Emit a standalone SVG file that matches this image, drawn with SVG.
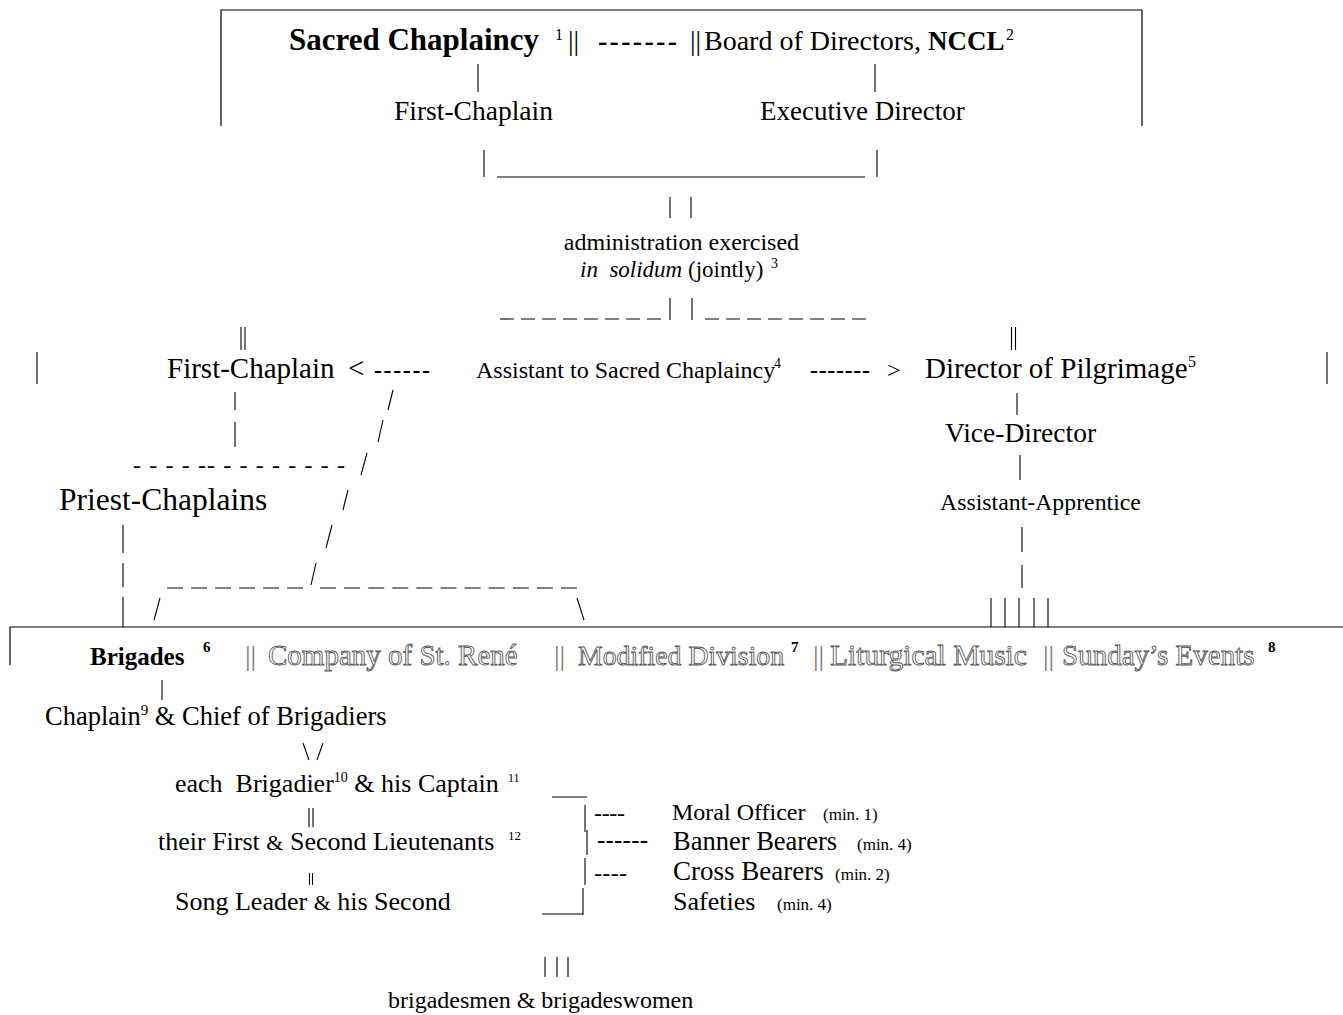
<svg xmlns="http://www.w3.org/2000/svg" width="1343" height="1015" viewBox="0 0 1343 1015">
<style>
text{font-family:"Liberation Serif","Times New Roman",serif;fill:#000}
.b{font-weight:bold}
.i{font-style:italic}
.o{fill:#fff;stroke:#5a5a5a;stroke-width:0.9}
.g{fill:#777}
.c line,.c path{stroke:#000;stroke-width:1.1;fill:none}
.frame{stroke:#000;stroke-width:1.2;fill:none}
</style>
<rect width="1343" height="1015" fill="#fff"/>

<g id="frames">
<path class="frame" d="M221,126 V10 H1142 V126"/>
<path class="frame" d="M10,665 V627 H1343"/>
</g>

<g id="sacred-chaplaincy">
<text x="289" y="50" class="b" font-size="31">Sacred Chaplaincy</text>
<text x="555" y="40" font-size="16">1</text>
</g>
<g id="board-of-directors">
<text x="704" y="50" font-size="28">Board of Directors, <tspan class="b" font-size="27">NCCL</tspan></text>
<text x="1006" y="40" font-size="16">2</text>
</g>
<g id="first-chaplain-top"><text x="394" y="120" font-size="27.5">First-Chaplain</text></g>
<g id="executive-director"><text x="760" y="120" font-size="27">Executive Director</text></g>
<g id="administration">
<text x="681.5" y="250" font-size="24" text-anchor="middle">administration exercised</text>
<text x="580" y="277" font-size="23" xml:space="preserve"><tspan class="i">in  solidum</tspan> (jointly)</text>
<text x="771" y="268" font-size="14">3</text>
</g>
<g id="first-chaplain"><text x="167" y="378" font-size="29">First-Chaplain</text></g>
<g id="assistant-sacred-chaplaincy">
<text x="476" y="378" font-size="24">Assistant to Sacred Chaplaincy</text>
<text x="774" y="368" font-size="14">4</text>
</g>
<g id="director-of-pilgrimage">
<text x="925" y="378" font-size="29">Director of Pilgrimage</text>
<text x="1188" y="367" font-size="16">5</text>
</g>
<g id="vice-director"><text x="945" y="442" font-size="27.5">Vice-Director</text></g>
<g id="assistant-apprentice"><text x="940" y="510" font-size="23.8">Assistant-Apprentice</text></g>
<g id="priest-chaplains"><text x="59" y="510" font-size="31.5">Priest-Chaplains</text></g>

<g id="brigades">
<text x="90" y="665" class="b" font-size="25">Brigades</text>
<text x="203" y="652" class="b" font-size="15">6</text>
</g>
<g id="company-st-rene"><text x="268" y="665" class="o" font-size="29">Company of St. René</text></g>
<g id="modified-division">
<text x="578" y="665" class="o" font-size="27.8">Modified Division</text>
<text x="791" y="652" class="b" font-size="15">7</text>
</g>
<g id="liturgical-music"><text x="830" y="665" class="o" font-size="29.5">Liturgical Music</text></g>
<g id="sundays-events">
<text x="1062" y="665" class="o" font-size="29">Sunday’s Events</text>
<text x="1268" y="652" class="b" font-size="15">8</text>
</g>

<g id="chaplain-chief">
<text x="45" y="725" font-size="26.5">Chaplain<tspan font-size="15" dy="-10">9</tspan><tspan dy="10"> &amp; Chief of Brigadiers</tspan></text>
</g>
<g id="brigadier-captain">
<text x="175" y="792" font-size="26" xml:space="preserve">each  Brigadier<tspan font-size="14" dy="-10">10</tspan><tspan dy="10"> &amp; his Captain </tspan></text>
<text x="508" y="782" font-size="12">11</text>
</g>
<g id="lieutenants">
<text x="158" y="850" font-size="26">their First <tspan font-size="22">&amp;</tspan> Second Lieutenants</text>
<text x="508" y="840" font-size="13">12</text>
</g>
<g id="song-leader"><text x="175" y="910" font-size="26">Song Leader <tspan font-size="22">&amp;</tspan> his Second</text></g>
<g id="moral-officer"><text x="672" y="820" font-size="24">Moral Officer</text><text x="823" y="820" font-size="17">(min. 1)</text></g>
<g id="banner-bearers"><text x="673" y="850" font-size="26.5">Banner Bearers</text><text x="857" y="850" font-size="17">(min. 4)</text></g>
<g id="cross-bearers"><text x="673" y="880" font-size="27">Cross Bearers</text><text x="835" y="880" font-size="17">(min. 2)</text></g>
<g id="safeties"><text x="673" y="910" font-size="26">Safeties</text><text x="777" y="910" font-size="17">(min. 4)</text></g>
<g id="brigadesmen"><text x="388" y="1008" font-size="24">brigadesmen &amp; brigadeswomen</text></g>

<g id="connectors" class="c">
<text x="568" y="50" font-size="28">||</text>
<text x="598" y="50" class="b" font-size="28" textLength="79">-------</text>
<text x="690" y="50" font-size="28">||</text>
<line x1="478" y1="64" x2="478" y2="92"/>
<line x1="875" y1="64" x2="875" y2="92"/>
<line x1="484" y1="150" x2="484" y2="177"/>
<line x1="497" y1="177" x2="865" y2="177"/>
<line x1="877" y1="150" x2="877" y2="177"/>
<line x1="670" y1="197" x2="670" y2="218"/>
<line x1="691" y1="197" x2="691" y2="218"/>
<line x1="500" y1="319" x2="661" y2="319" stroke-dasharray="14 7"/>
<line x1="670" y1="298" x2="670" y2="320"/>
<line x1="692" y1="298" x2="692" y2="320"/>
<line x1="705" y1="319" x2="866" y2="319" stroke-dasharray="14 7"/>
<line x1="241" y1="327" x2="241" y2="350"/>
<line x1="245" y1="327" x2="245" y2="350"/>
<line x1="1011.5" y1="327" x2="1011.5" y2="350"/>
<line x1="1015.5" y1="327" x2="1015.5" y2="350"/>
<line x1="37" y1="352" x2="37" y2="384"/>
<line x1="1327" y1="352" x2="1327" y2="384"/>
<text x="348" y="378" font-size="29">&lt;</text>
<text x="374" y="378" class="b" font-size="24" textLength="56">------</text>
<text x="810" y="378" class="b" font-size="24" textLength="60">-------</text>
<text x="887" y="378" font-size="24">&gt;</text>
<line x1="235" y1="392" x2="235" y2="410"/>
<line x1="235" y1="422" x2="235" y2="447"/>
<text x="133" y="473" font-size="24" textLength="212">- - - - -- - - - - - - - -</text>
<line x1="393" y1="390" x2="388" y2="410"/>
<line x1="383" y1="420" x2="378" y2="442"/>
<line x1="367" y1="453" x2="361" y2="475"/>
<line x1="348" y1="490" x2="343" y2="510"/>
<line x1="332" y1="525" x2="326" y2="548"/>
<line x1="316" y1="563" x2="311" y2="585"/>
<line x1="160" y1="598" x2="154" y2="620"/>
<line x1="123" y1="525" x2="123" y2="553"/>
<line x1="123" y1="563" x2="123" y2="587"/>
<line x1="123" y1="597" x2="123" y2="627"/>
<line x1="167" y1="588" x2="303" y2="588" stroke-dasharray="16 8"/>
<line x1="320" y1="588" x2="577" y2="588" stroke-dasharray="16 8.1"/>
<line x1="577" y1="598" x2="584" y2="620"/>
<line x1="1017" y1="393" x2="1017" y2="415"/>
<line x1="1020" y1="455" x2="1020" y2="480"/>
<line x1="1022" y1="527" x2="1022" y2="552"/>
<line x1="1022" y1="565" x2="1022" y2="588"/>
<line x1="991" y1="598" x2="991" y2="627"/>
<line x1="1005" y1="598" x2="1005" y2="627"/>
<line x1="1019" y1="598" x2="1019" y2="627"/>
<line x1="1034" y1="598" x2="1034" y2="627"/>
<line x1="1048" y1="598" x2="1048" y2="627"/>
<text x="245" y="665" class="g" font-size="28">||</text>
<text x="554" y="665" class="g" font-size="28">||</text>
<text x="813" y="665" class="g" font-size="28">||</text>
<text x="1043" y="665" class="g" font-size="28">||</text>
<line x1="162" y1="680" x2="162" y2="700"/>
<line x1="303" y1="743" x2="309" y2="760"/>
<line x1="323" y1="743" x2="317" y2="760"/>
<line x1="309" y1="808" x2="309" y2="827"/>
<line x1="313" y1="808" x2="313" y2="827"/>
<line x1="309.5" y1="873" x2="309.5" y2="885"/>
<line x1="312.5" y1="873" x2="312.5" y2="885"/>
<line x1="552" y1="797" x2="587" y2="797"/>
<line x1="585" y1="805" x2="585" y2="832"/>
<line x1="587" y1="830" x2="587" y2="855"/>
<line x1="585" y1="858" x2="585" y2="885"/>
<line x1="583" y1="888" x2="583" y2="915"/>
<line x1="542" y1="914" x2="583" y2="914"/>
<text x="594" y="821" font-size="24" textLength="31">----</text>
<text x="597" y="848" font-size="25" textLength="51">------</text>
<text x="594" y="881" font-size="24" textLength="33">----</text>
<line x1="545" y1="957" x2="545" y2="977"/>
<line x1="557" y1="957" x2="557" y2="977"/>
<line x1="568" y1="957" x2="568" y2="977"/>
</g>
</svg>
